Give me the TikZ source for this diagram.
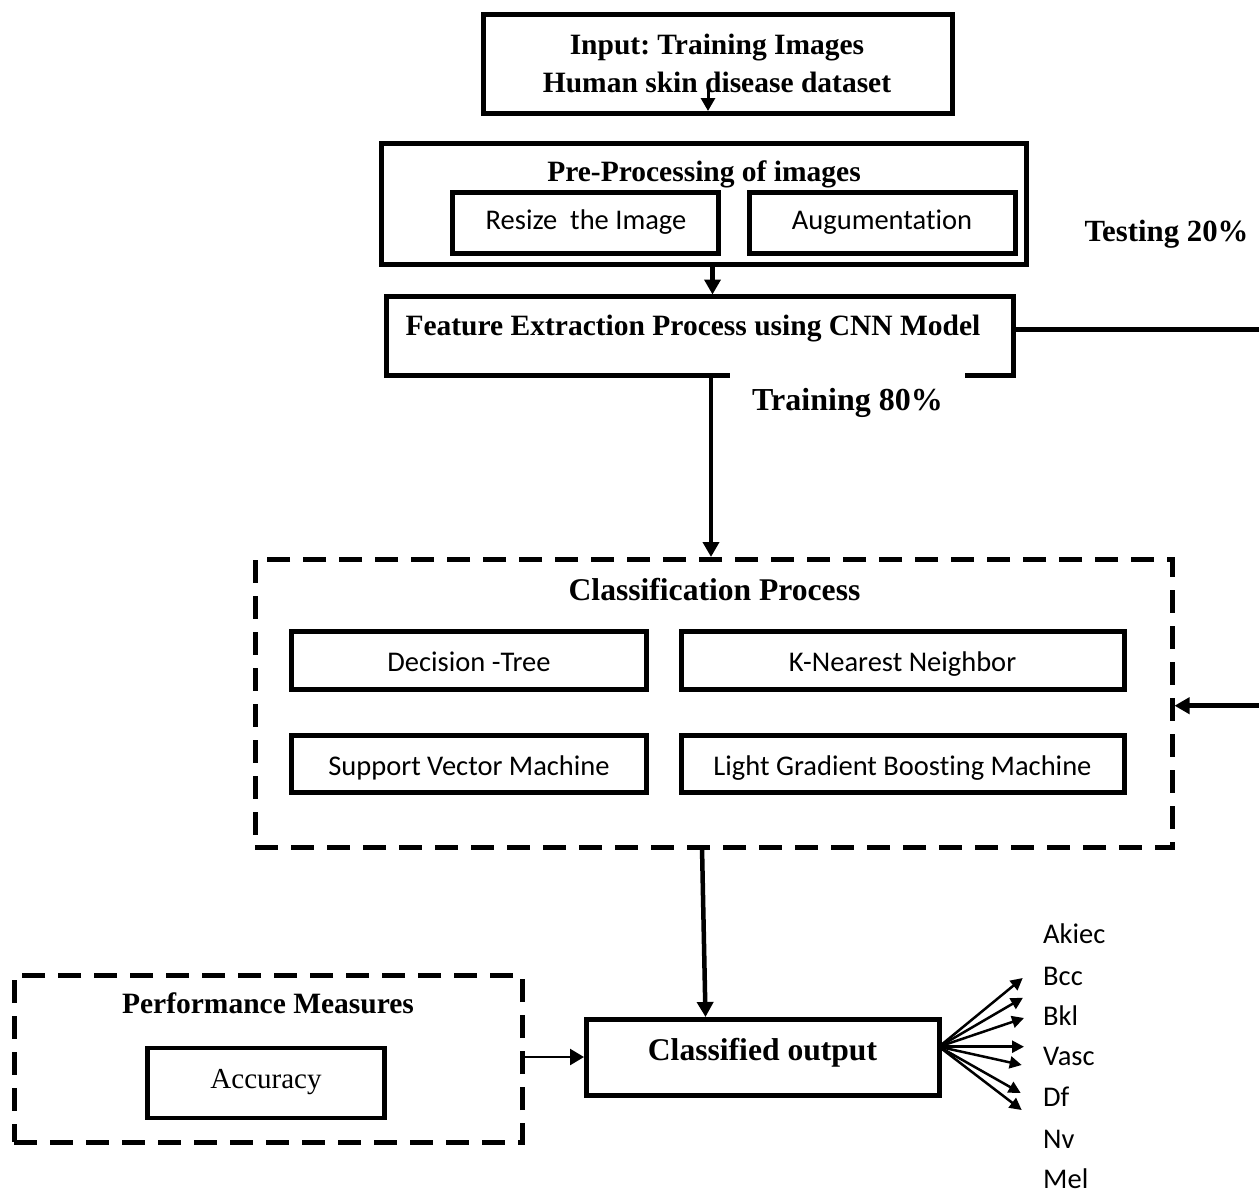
\documentclass[tikz,border=0pt]{standalone}
\usepackage{fontspec}
\setmainfont{Liberation Serif}
\newfontfamily\calfont{Carlito}[Ligatures=NoCommon]
\usetikzlibrary{arrows.meta,calc}
\tikzset{
  box/.style={draw, rectangle, line width=5pt, inner sep=0pt, outer sep=0pt},
  dbox/.style={draw, rectangle, line width=5pt, dash pattern=on 23pt off 13pt, inner sep=0pt, outer sep=0pt},
  btxt/.style={font=\fontsize{29.5pt}{36pt}\selectfont\bfseries, inner sep=0pt, anchor=base},
  bigtxt/.style={font=\fontsize{31.6pt}{38pt}\selectfont\bfseries, inner sep=0pt, anchor=base},
  rtxt/.style={font=\fontsize{29pt}{35pt}\selectfont, inner sep=0pt, anchor=base},
  ctxt/.style={font=\calfont\fontsize{28.5pt}{34pt}\selectfont, inner sep=0pt, anchor=base},
  lbl/.style={font=\calfont\fontsize{28.5pt}{34pt}\selectfont, inner sep=0pt, anchor=base west},
  conn/.style={line width=4.5pt},
  arr/.style={line width=4.5pt, -{Triangle[length=15pt,width=16pt]}},
  thinarr/.style={line width=3pt, -{Triangle[length=13pt,width=14pt]}},
  fanarr/.style={line width=2.5pt, -{Triangle[length=12pt,width=12pt]}},
}
\begin{document}
\frenchspacing
\begin{tikzpicture}[x=1pt,y=-1pt]
\useasboundingbox (0,0) rectangle (1259,1194);

% Input
\node[box, minimum width=469pt, minimum height=99pt] (input) at (717.5,63.5) {};
\node[btxt] (in1) at (717,54) {Input: Training Images};
\node[btxt] (in2) at (717,92.7) {Human skin disease dataset};

% Pre-processing
\node[box, minimum width=645pt, minimum height=121pt] (pre) at (703.5,203.5) {};
\node[btxt] (pretitle) at (704,181.7) {Pre-Processing of images};
\node[box, minimum width=266pt, minimum height=61pt] (resize) at (585.5,223) {};
\node[ctxt] (resizet) at (586,229.3) {Resize\ \ the Image};
\node[box, minimum width=266pt, minimum height=61pt] (aug) at (882,223) {};
\node[ctxt] (augt) at (882,229.3) {Augumentation};

% Feature extraction
\node[box, minimum width=627pt, minimum height=78.5pt] (feat) at (699.5,335.75) {};
\node[btxt] (featt) at (693,335) {Feature Extraction Process using CNN Model};
\node[font=\fontsize{32pt}{38pt}\selectfont\bfseries, fill=white, inner sep=0pt,
      minimum width=235pt, text height=40pt, text depth=8pt, anchor=base] (train) at (847.5,410.7) {Training 80\%};
\node[font=\fontsize{30.8pt}{37pt}\selectfont\bfseries, inner sep=0pt, anchor=base] (test) at (1166.5,241.7) {Testing 20\%};

% Classification
\node[dbox, minimum width=917.5pt, minimum height=288pt] (cls) at (713.75,703) {};
\node[bigtxt] (clst) at (714.5,600) {Classification Process};
\node[box, minimum width=355pt, minimum height=57.5pt] (dt) at (469,660.25) {};
\node[ctxt] (dtt) at (469,671.7) {Decision -Tree};
\node[box, minimum width=443pt, minimum height=57.5pt] (knn) at (902.5,660.25) {};
\node[ctxt] (knnt) at (902.5,671.7) {K-Nearest Neighbor};
\node[box, minimum width=355pt, minimum height=57.5pt] (svm) at (469,763.75) {};
\node[ctxt] (svmt) at (469,775) {Support Vector Machine};
\node[box, minimum width=443pt, minimum height=57.5pt] (lgbm) at (902.5,763.75) {};
\node[ctxt] (lgbmt) at (902.5,775) {Light Gradient Boosting Machine};

% Performance
\node[dbox, minimum width=508pt, minimum height=167pt] (perf) at (268,1058.5) {};
\node[btxt] (perft) at (268,1013) {Performance Measures};
\node[box, line width=4.5pt, minimum width=237pt, minimum height=70pt] (acc) at (266,1083) {};
\node[rtxt] (acct) at (266,1088.3) {Accuracy};

% Classified output
\node[box, minimum width=353pt, minimum height=76pt] (out) at (762.5,1057) {};
\node[bigtxt] (outt) at (762.5,1060) {Classified output};

% Labels
\node[lbl] (l1) at (1043,943.3) {Akiec};
\node[lbl] (l2) at (1043,985) {Bcc};
\node[lbl] (l3) at (1043,1025) {Bkl};
\node[lbl] (l4) at (1043,1065.7) {Vasc};
\node[lbl] (l5) at (1043,1106.7) {Df};
\node[lbl] (l6) at (1043,1148.3) {Nv};
\node[lbl] (l7) at (1043,1188.3) {Mel};

% Connectors
\draw[thinarr] ([xshift=-9.5pt,yshift=25pt]input.south) -- ([xshift=-9.5pt,yshift=2pt]input.south);
\draw[arr] ([xshift=9pt]pre.south) -- ([xshift=9pt,yshift=2pt]pre.south |- feat.north);
\draw[arr] ([xshift=11.5pt]feat.south) -- ([xshift=11.5pt,yshift=2pt]feat.south |- cls.north);
\draw[arr] ([xshift=-11.75pt]cls.south) -- ([xshift=-57pt,yshift=2pt]out.north);
\draw[line width=2.5pt, -{Triangle[length=14pt,width=16pt]}] (perf.east |- out.west) -- ([xshift=-2pt]out.west);

\coordinate (redge1) at (1262,329.3);
\coordinate (redge2) at (1262,705.7);
\draw[conn] (feat.east |- redge1) -- (redge1);
\draw[arr] (redge2) -- ([xshift=2pt]cls.east |- redge2);

% Fan
\coordinate (fo) at ([yshift=10.3pt]out.east);
\coordinate (t1) at (1022.7,978);
\coordinate (t2) at (1023,997.7);
\coordinate (t3) at (1024,1018);
\coordinate (t4) at (1024,1046.7);
\coordinate (t5) at (1021.7,1065);
\coordinate (t6) at (1020.7,1093);
\coordinate (t7) at (1021.7,1110);
\foreach \t in {t1,t2,t3,t4,t5,t6,t7} {\draw[fanarr] (fo) -- (\t);}
\end{tikzpicture}
\end{document}
